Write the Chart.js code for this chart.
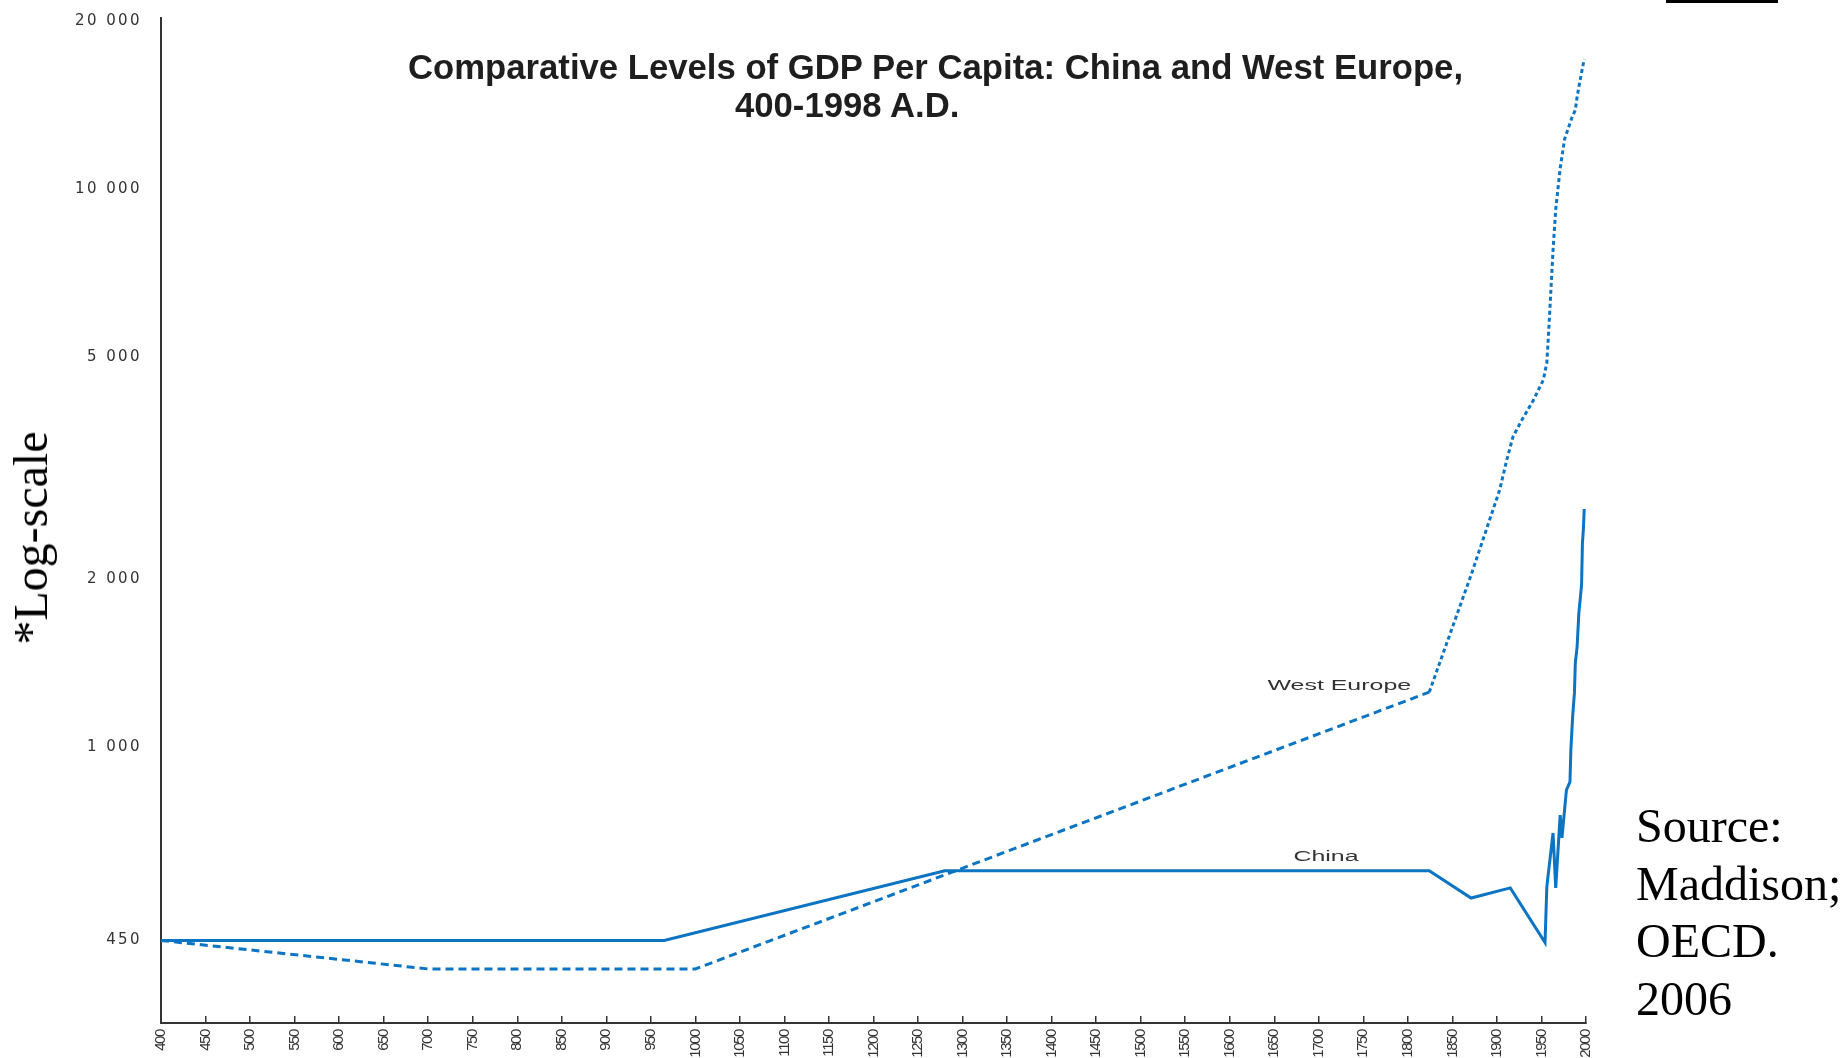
<!DOCTYPE html>
<html>
<head>
<meta charset="utf-8">
<title>Comparative Levels of GDP Per Capita: China and West Europe, 400-1998 A.D.</title>
<script src="https://cdn.jsdelivr.net/npm/chart.js@4.4.1/dist/chart.umd.min.js"></script>
<style>
  html, body { margin: 0; padding: 0; background: #fff; }
  #wrap { position: relative; width: 1845px; height: 1058px; overflow: hidden; background: #fff; }
  #chart { position: absolute; left: 0; top: 0; }
  .title { position: absolute; font-family: "Liberation Sans", Arial, sans-serif; font-weight: bold;
           font-size: 34.7px; line-height: 34.7px; color: #1e1e1e; white-space: nowrap; }
  .serif { position: absolute; font-family: "Liberation Serif", "Times New Roman", serif;
           font-size: 48px; color: #000; white-space: nowrap; }
</style>
</head>
<body>
<div id="wrap">
  <canvas id="chart" width="1845" height="1058"></canvas>
  <div class="title" style="left:408px; top:50px;">Comparative Levels of GDP Per Capita: China and West Europe,</div>
  <div class="title" style="left:735px; top:88px;">400-1998 A.D.</div>
  <div class="serif" style="left:31px; top:538px; line-height:48px; transform:translate(-50%,-50%) rotate(-90deg);">*Log-scale</div>
  <div class="serif" style="left:1636px; top:797px; line-height:57.5px;">Source:<br>Maddison;<br>OECD.<br>2006</div>
  <div style="position:absolute; left:1666px; top:0; width:112px; height:3px; background:#000;"></div>
</div>
<script>
// GDP per capita (1990 international dollars), log scale
const yearsChina = [400, 965, 1280, 1824, 1871, 1915, 1954, 1956, 1957, 1963, 1966, 1971, 1973,
                    1978, 1982, 1983, 1985, 1987, 1988, 1990, 1992, 1995, 1996, 1997, 1998];
const gdpChina   = [450, 450, 600, 600, 536, 559, 446, 561, 580, 701, 559, 755, 687,
                    837, 866, 988, 1133, 1250, 1414, 1512, 1739, 1951, 2321, 2448, 2670];

const yearsWestEurope = [400, 700, 1000, 1824, 1871, 1903, 1911, 1918, 1928, 1941, 1952, 1956,
                         1958, 1960, 1963, 1966, 1971, 1976, 1984, 1988, 1990, 1993, 1996, 1998];
const gdpWestEurope   = [450, 400, 400, 1254, 2034, 2887, 3268, 3599, 3856, 4188, 4547, 4879,
                         5523, 6328, 7780, 9200, 10900, 12300, 13413, 13865, 14630, 15563, 16489, 17113];

const yTickValues = [450, 1000, 2000, 5000, 10000, 20000];
const xTickValues = [];
for (let yr = 400; yr <= 2000; yr += 50) xTickValues.push(yr);

// series names written beside the lines, anchored in data units
const seriesLabels = [
  { text: 'West Europe', year: 1723, value: 1286 },
  { text: 'China',       year: 1708, value: 635 }
];

const lineBlue = '#0b74c3';
const axisColor = '#333333';
const sansFamily = '"Liberation Sans", Arial, Helvetica, sans-serif';
const wideFamily = '"DejaVu Sans", Verdana, sans-serif';

const toPoints = (xs, ys) => xs.map((x, i) => ({ x: x, y: ys[i] }));
const spaced = v => String(Math.round(v)).replace(/\B(?=(\d{3})+(?!\d))/g, ' ');

// x labels are drawn before the datasets, y labels (z: 1) after them,
// so each set gets its own letter spacing
const textSpacing = {
  id: 'textSpacing',
  beforeDraw(chart) { chart.ctx.letterSpacing = '-1.4px'; },
  afterDatasetsDraw(chart) { chart.ctx.letterSpacing = '2.4px'; },
  afterDraw(chart) {
    const { ctx, scales: { x, y } } = chart;
    ctx.letterSpacing = '0px';
    ctx.save();
    ctx.font = '14px ' + sansFamily;
    ctx.fillStyle = '#333';
    ctx.textAlign = 'center';
    ctx.textBaseline = 'middle';
    seriesLabels.forEach(l => {
      ctx.save();
      ctx.translate(x.getPixelForValue(l.year), y.getPixelForValue(l.value));
      ctx.scale(1.78, 1);
      ctx.fillText(l.text, 0, 0);
      ctx.restore();
    });
    ctx.restore();
  }
};

new Chart(document.getElementById('chart'), {
  type: 'line',
  data: {
    datasets: [
      {
        label: 'China',
        data: toPoints(yearsChina, gdpChina),
        borderColor: lineBlue,
        borderWidth: 3,
        pointRadius: 0,
        tension: 0,
        fill: false
      },
      {
        label: 'West Europe',
        data: toPoints(yearsWestEurope, gdpWestEurope),
        borderColor: lineBlue,
        borderWidth: 3,
        pointRadius: 0,
        tension: 0,
        fill: false,
        segment: {
          borderDash: c => (c.p0.parsed.x >= 1824 ? [4, 3] : [8, 5])
        }
      }
    ]
  },
  options: {
    responsive: false,
    animation: false,
    devicePixelRatio: 1,
    layout: { padding: { top: 18, right: 259, bottom: 0, left: 0 } },
    plugins: {
      legend: { display: false },
      title: { display: false },
      tooltip: { enabled: false }
    },
    scales: {
      x: {
        type: 'linear',
        min: 400,
        max: 2000,
        afterBuildTicks: s => { s.ticks = xTickValues.map(v => ({ value: v })); },
        afterFit: s => { s.height = 35; s.paddingLeft = 0; s.paddingRight = 0; },
        ticks: {
          autoSkip: false,
          minRotation: 90,
          maxRotation: 90,
          padding: 14,
          color: '#333',
          font: { family: sansFamily, size: 15 },
          callback: v => String(v)
        },
        grid: { display: true, drawOnChartArea: false, drawTicks: true, tickLength: -7, color: axisColor, lineWidth: 1.5 },
        border: { display: true, color: axisColor, width: 2 }
      },
      y: {
        type: 'logarithmic',
        min: 320,
        max: 20270,
        afterBuildTicks: s => { s.ticks = yTickValues.map(v => ({ value: v })); },
        afterFit: s => { s.width = 161; s.paddingTop = 0; s.paddingBottom = 0; },
        ticks: {
          autoSkip: false,
          padding: 19,
          z: 1,
          color: '#333',
          font: { family: wideFamily, size: 15 },
          callback: v => spaced(v)
        },
        grid: { display: false, drawTicks: false },
        border: { display: true, color: axisColor, width: 2 }
      }
    }
  },
  plugins: [textSpacing]
});
</script>
</body>
</html>
